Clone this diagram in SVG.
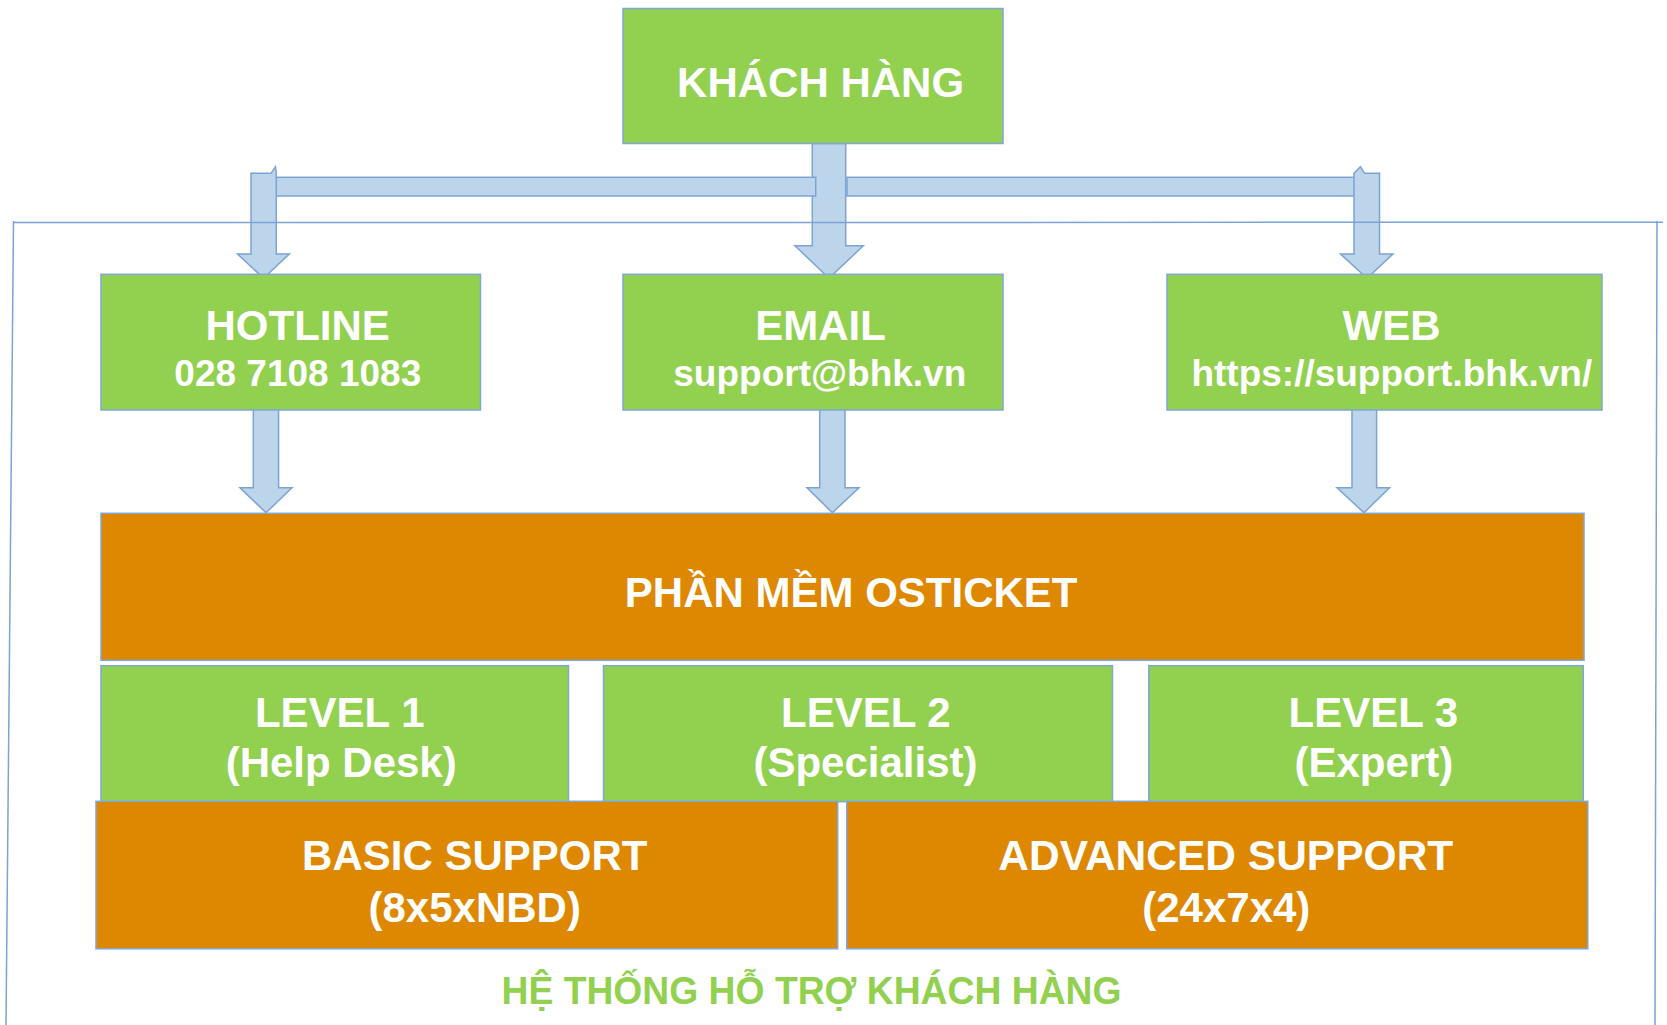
<svg xmlns="http://www.w3.org/2000/svg" width="1667" height="1025" viewBox="0 0 1667 1025">
<style>
.g{fill:#92D050;stroke:#7FA7D8;stroke-width:1.5}
.o{fill:#DD8800;stroke:#7FA7D8;stroke-width:1.5}
.a{fill:#BDD5EA;stroke:#7BA3D4;stroke-width:1.5;stroke-linejoin:miter}
.f{fill:none;stroke:#7BA3D6;stroke-width:1.5}
text{font-family:"Liberation Sans",Arial,sans-serif;font-weight:bold;fill:#FFFFFF;text-anchor:middle}
.t1{font-size:42px}
.t2{font-size:37px}
.ft{font-size:38px;fill:#92D050}
</style>
<rect width="1667" height="1025" fill="#FFFFFF"/>
<g id="connectors">
  <polygon class="a" points="812.3,143.5 845.7,143.5 845.7,245.7 863.3,245.7 829,278.3 795,245.7 812.3,245.7"/>
  <rect class="a" x="262" y="177.3" width="553.7" height="18.7"/>
  <rect class="a" x="847" y="177.3" width="520" height="18.7"/>
  <polygon class="a" points="251,173.3 271,173.3 275.5,166.7 276.3,173.3 276.3,254 289.3,254 263.6,278.3 237.5,254 251,254"/>
  <polygon class="a" points="1354,173.3 1360.4,166.7 1364.5,173.3 1379.5,173.3 1379.5,254 1393,254 1367,278.3 1340.5,254 1354,254"/>
  <polygon class="a" points="253.3,407.3 278.6,407.3 278.6,487.7 292,487.7 266,512.7 240,487.7 253.3,487.7"/>
  <polygon class="a" points="819.7,407.3 845,407.3 845,487.7 859,487.7 832.4,512.7 807,487.7 819.7,487.7"/>
  <polygon class="a" points="1352,407.3 1376.6,407.3 1376.6,487.7 1389.5,487.7 1364,512.7 1337,487.7 1352,487.7"/>
</g>
<g id="frame">
  <line class="f" x1="13.5" y1="222.5" x2="1663" y2="222.3"/>
  <line class="f" x1="13.5" y1="221" x2="6" y2="1025"/>
  <line class="f" x1="1657" y1="221" x2="1655" y2="1025"/>
</g>
<g id="khach-hang">
  <rect class="g" x="623" y="8.5" width="380" height="135"/>
  <text class="t1" x="820.6" y="96.7">KHÁCH HÀNG</text>
</g>
<g id="hotline">
  <rect class="g" x="101" y="274.3" width="379.5" height="135.7"/>
  <text class="t1" x="297.7" y="340">HOTLINE</text>
  <text class="t2" x="297.8" y="386">028 7108 1083</text>
</g>
<g id="email">
  <rect class="g" x="623" y="274.3" width="380" height="135.7"/>
  <text class="t1" x="820.5" y="340">EMAIL</text>
  <text class="t2" x="819.8" y="386">support@bhk.vn</text>
</g>
<g id="web">
  <rect class="g" x="1167" y="274.3" width="435" height="135.7"/>
  <text class="t1" x="1391.5" y="340">WEB</text>
  <text class="t2" x="1391.8" y="386">https://support.bhk.vn/</text>
</g>
<g id="osticket">
  <rect class="o" x="101" y="513.3" width="1483" height="147"/>
  <text class="t1" x="851.2" y="606.7">PHẦN MỀM OSTICKET</text>
</g>
<g id="level1">
  <rect class="g" x="101" y="665.7" width="467.5" height="136"/>
  <text class="t1" x="339.7" y="726.7">LEVEL 1</text>
  <text class="t1" x="341.2" y="777.3">(Help Desk)</text>
</g>
<g id="level2">
  <rect class="g" x="603.5" y="665.7" width="509" height="136"/>
  <text class="t1" x="865.8" y="726.7">LEVEL 2</text>
  <text class="t1" x="865.5" y="777.3">(Specialist)</text>
</g>
<g id="level3">
  <rect class="g" x="1148.8" y="665.7" width="434.5" height="136"/>
  <text class="t1" x="1373.3" y="726.7">LEVEL 3</text>
  <text class="t1" x="1373.8" y="777.3">(Expert)</text>
</g>
<g id="basic-support">
  <rect class="o" x="96" y="801.3" width="741.7" height="147.5"/>
  <text class="t1" x="474.8" y="870">BASIC SUPPORT</text>
  <text class="t1" x="474.7" y="921.7">(8x5xNBD)</text>
</g>
<g id="advanced-support">
  <rect class="o" x="846.8" y="801.3" width="741" height="147.5"/>
  <text class="t1" x="1225.8" y="870" textLength="455" lengthAdjust="spacingAndGlyphs">ADVANCED SUPPORT</text>
  <text class="t1" x="1226.3" y="921.7">(24x7x4)</text>
</g>
<g id="system-label">
  <text class="ft" x="811.5" y="1004" textLength="620" lengthAdjust="spacingAndGlyphs">HỆ THỐNG HỖ TRỢ KHÁCH HÀNG</text>
</g>
</svg>
